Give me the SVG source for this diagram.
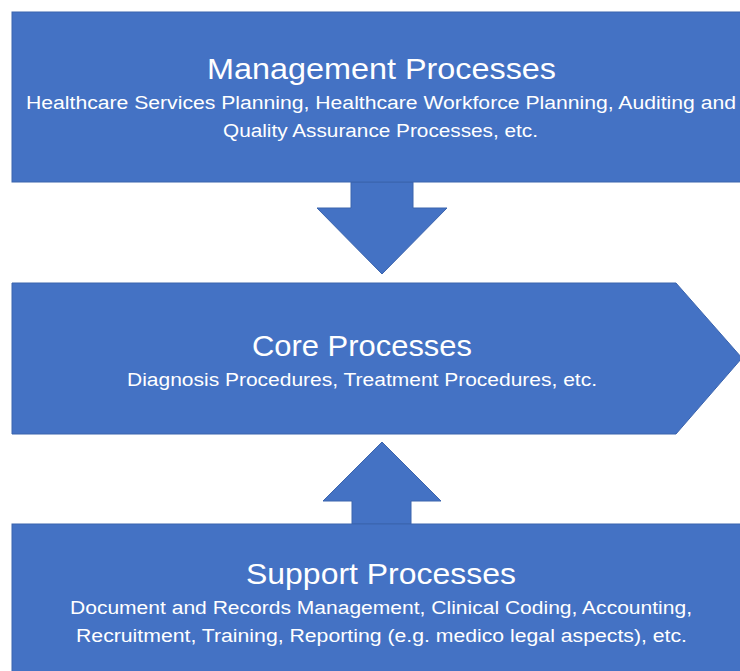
<svg xmlns="http://www.w3.org/2000/svg" width="740" height="671" viewBox="0 0 740 671">
<style>
.shape{fill:#4472C4;stroke:#3B64AD;stroke-width:1}
.t{fill:#fff;font-family:"Liberation Sans","Open Sans",sans-serif;text-anchor:middle}
.h{font-size:29px}
.s{font-size:18px}
</style>
<rect width="740" height="671" fill="#fff"/>
<g id="connectors">
<polygon class="shape" points="351,182 413,182 413,208 447,208 382,274 317,208 351,208"/>
<polygon class="shape" points="382,442 441,501 411,501 411,524 352,524 352,501 323,501"/>
</g>
<g id="management">
<rect class="shape" x="12" y="12" width="740" height="170"/>
<text class="t h" x="381.5" y="79" textLength="349" lengthAdjust="spacingAndGlyphs">Management Processes</text>
<text class="t s" x="381" y="109" textLength="710" lengthAdjust="spacingAndGlyphs">Healthcare Services Planning, Healthcare Workforce Planning, Auditing and</text>
<text class="t s" x="380.5" y="137" textLength="315" lengthAdjust="spacingAndGlyphs">Quality Assurance Processes, etc.</text>
</g>
<g id="core">
<polygon class="shape" points="12,283 676,283 742,358 676,434 12,434"/>
<text class="t h" x="362" y="356" textLength="220" lengthAdjust="spacingAndGlyphs">Core Processes</text>
<text class="t s" x="362" y="386" textLength="470" lengthAdjust="spacingAndGlyphs">Diagnosis Procedures, Treatment Procedures, etc.</text>
</g>
<g id="support">
<rect class="shape" x="12" y="524" width="740" height="160"/>
<text class="t h" x="381" y="584" textLength="270" lengthAdjust="spacingAndGlyphs">Support Processes</text>
<text class="t s" x="381" y="614" textLength="622" lengthAdjust="spacingAndGlyphs">Document and Records Management, Clinical Coding, Accounting,</text>
<text class="t s" x="381.5" y="642" textLength="611" lengthAdjust="spacingAndGlyphs">Recruitment, Training, Reporting (e.g. medico legal aspects), etc.</text>
</g>
</svg>
